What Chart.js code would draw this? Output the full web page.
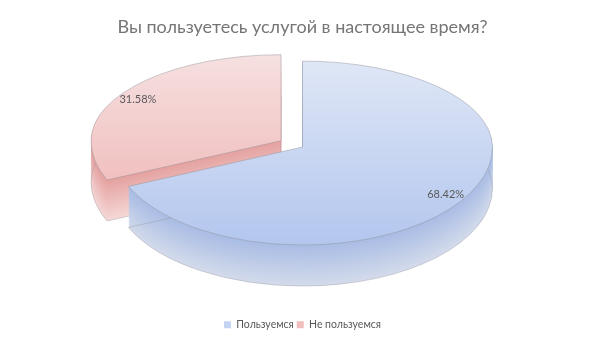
<!DOCTYPE html>
<html>
<head>
<meta charset="utf-8">
<script src="https://cdn.jsdelivr.net/npm/chart.js@4.4.1/dist/chart.umd.min.js"></script>
<style>
  html, body { margin: 0; padding: 0; background: #fff; }
  #wrap { width: 605px; height: 340px; }
</style>
</head>
<body>
<div id="wrap"><canvas id="chart_pie"></canvas></div>
<script>
// data
const categories = ['Пользуемся', 'Не пользуемся'];
const shares = [68.42, 31.58];
const chartTitle = 'Вы пользуетесь услугой в настоящее время?';

// colours: [top light, top dark, side dark, side light]
const sliceColors = [
  ['#dfe7f6', '#b3c6ee', '#a9bce4', '#d3dbeb'],
  ['#f6e0e0', '#eeb1b0', '#e4a19f', '#f5d8d7']
];
const legendColors = ['#c3d3f1', '#f1bebd'];

// fake 3d projection of the flat pie (front half a bit taller than back half)
const tilt = { rx: 190, ryFront: 98, ryBack: 86, depth: 41, lift: 35 };

function mix(c1, c2, t) {
  const a = parseInt(c1.slice(1), 16), b = parseInt(c2.slice(1), 16);
  const r = Math.round(((a >> 16) & 255) * (1 - t) + ((b >> 16) & 255) * t);
  const g = Math.round(((a >> 8) & 255) * (1 - t) + ((b >> 8) & 255) * t);
  const bl = Math.round((a & 255) * (1 - t) + (b & 255) * t);
  return 'rgb(' + r + ',' + g + ',' + bl + ')';
}

function sector(ctx, g, dy) {
  const cy = g.cy + dy;
  ctx.beginPath();
  ctx.moveTo(g.cx, cy);
  let a = g.a1;
  while (a < g.a2 - 1e-9) {
    const k = Math.floor(a / Math.PI + 1e-9);
    const b = Math.min(g.a2, (k + 1) * Math.PI);
    const front = ((k % 2) + 2) % 2 === 0;
    ctx.ellipse(g.cx, cy, g.rx, front ? g.ryF : g.ryB, 0, a, b);
    a = b;
  }
  ctx.closePath();
}

const pie3d = {
  id: 'pie3d',
  beforeDatasetsDraw(chart) {
    const ctx = chart.ctx;
    const arcs = chart.getDatasetMeta(0).data;
    const R = arcs[0].outerRadius;
    const sx = tilt.rx / R, syF = tilt.ryFront / R, syB = tilt.ryBack / R;
    const ox = arcs[0].x, oy = arcs[0].y - tilt.lift;
    const geo = arcs.map(a => {
      const off = a.options.offset || 0;
      const mid = (a.startAngle + a.endAngle) / 2;
      const s = Math.sin(mid);
      return {
        cx: ox + sx * Math.cos(mid) * off,
        cy: oy + (s > 0 ? syF : syB) * s * off,
        rx: sx * a.outerRadius,
        ryF: syF * a.outerRadius,
        ryB: syB * a.outerRadius,
        a1: a.startAngle, a2: a.endAngle, mid: mid
      };
    });
    // back slice first
    [1, 0].forEach(i => {
      const g = geo[i], col = sliceColors[i];
      for (let d = tilt.depth; d >= 1; d--) {
        sector(ctx, g, d);
        ctx.fillStyle = mix(col[2], col[3], d / tilt.depth);
        ctx.fill();
      }
      sector(ctx, g, tilt.depth);
      ctx.strokeStyle = 'rgba(140,140,150,0.45)';
      ctx.lineWidth = 0.8;
      ctx.stroke();
      const grad = ctx.createLinearGradient(0, g.cy - g.ryB, 0, g.cy + g.ryF);
      grad.addColorStop(0, col[0]);
      grad.addColorStop(1, col[1]);
      sector(ctx, g, 0);
      ctx.fillStyle = grad;
      ctx.fill();
      ctx.strokeStyle = 'rgba(140,140,150,0.55)';
      ctx.stroke();
    });
    // percentage labels
    ctx.font = '11px Lato';
    ctx.fillStyle = '#595959';
    ctx.textAlign = 'center';
    ctx.textBaseline = 'middle';
    geo.forEach((g, i) => {
      const s = Math.sin(g.mid);
      const x = g.cx + Math.cos(g.mid) * g.rx * 0.9;
      const y = g.cy + s * (s > 0 ? g.ryF : g.ryB) * 0.88;
      ctx.fillText(shares[i].toFixed(2) + '%', x, y);
    });
    return false;
  }
};

new Chart(document.getElementById('chart_pie'), {
  type: 'pie',
  data: {
    labels: categories,
    datasets: [{
      data: shares,
      backgroundColor: legendColors,
      borderWidth: 0,
      offset: [0, 17]
    }]
  },
  options: {
    responsive: true,
    maintainAspectRatio: false,
    animation: false,
    events: [],
    layout: { padding: 0 },
    plugins: {
      title: {
        display: true,
        text: chartTitle,
        color: '#757575',
        font: { family: 'Lato', size: 18, weight: 'normal' },
        padding: { top: 16, bottom: 10 }
      },
      legend: {
        position: 'bottom',
        labels: {
          color: '#595959',
          font: { family: 'Lato', size: 10.5 },
          boxWidth: 7,
          boxHeight: 7,
          padding: 3
        }
      },
      tooltip: { enabled: false }
    }
  },
  plugins: [pie3d]
});
</script>
</body>
</html>
